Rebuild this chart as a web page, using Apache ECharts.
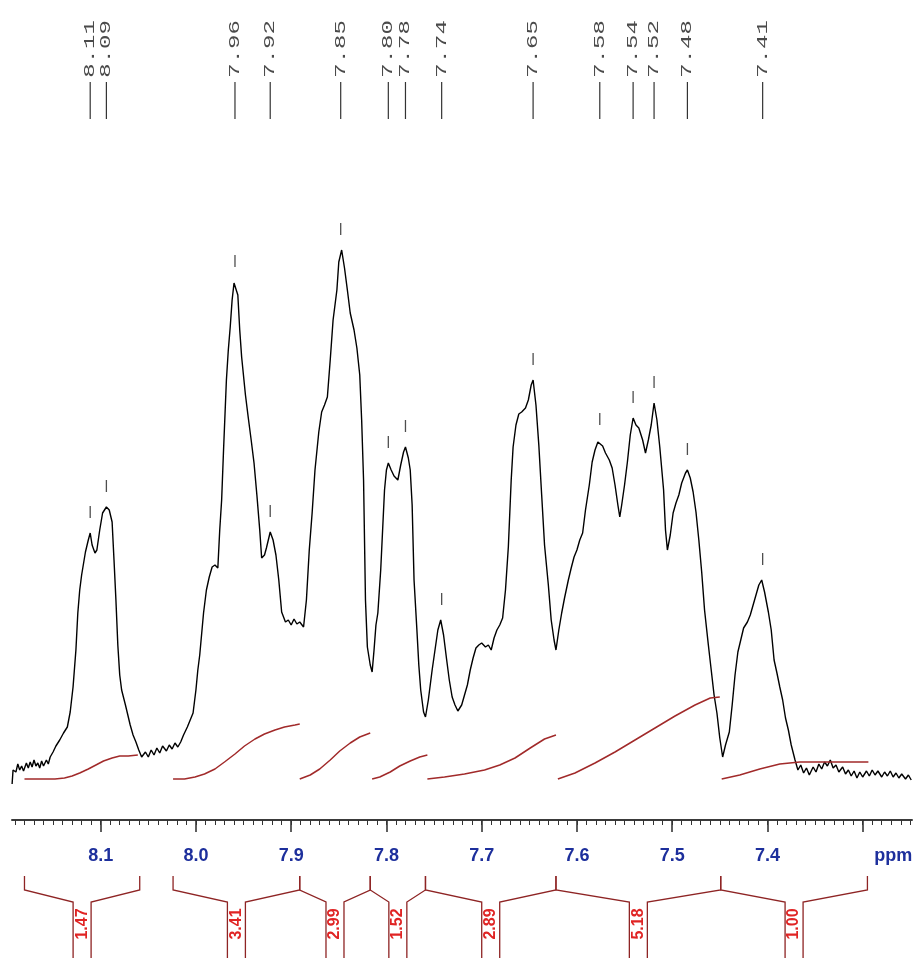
<!DOCTYPE html>
<html><head><meta charset="utf-8">
<script src="https://cdn.jsdelivr.net/npm/echarts@6/dist/echarts.min.js"></script>
<style>html,body{margin:0;padding:0;background:#fff}#c{width:916px;height:966px}</style>
</head><body><div id="c"></div>
<script>
// ---- data (ppm, intensity) ----
const spectrum = [
[8.193,36],[8.192,50],[8.191,52],[8.189,48],[8.187,56],[8.185,50],[8.183,54],[8.181,49],[8.178,57],[8.176,52],[8.174,58],[8.172,53],[8.170,60],[8.168,54],[8.166,57],[8.164,52],[8.162,59],[8.160,54],[8.157,60],[8.155,56],[8.153,63],[8.150,68],[8.147,74],[8.143,80],[8.139,87],[8.135,93],[8.132,108],[8.129,133],[8.126,170],[8.124,207],[8.122,230],[8.120,245],[8.116,268],[8.113,280],[8.111,287],[8.109,275],[8.106,267],[8.104,270],[8.101,290],[8.098,307],[8.094,313],[8.091,310],[8.088,298],[8.086,260],[8.084,220],[8.082,175],[8.080,145],[8.078,130],[8.074,115],[8.072,107],[8.069,95],[8.066,85],[8.063,78],[8.060,70],[8.057,63],[8.053,68],[8.050,63],[8.047,70],[8.044,65],[8.041,72],[8.038,67],[8.035,74],[8.031,69],[8.028,75],[8.025,71],[8.022,77],[8.019,73],[8.016,78],[8.013,85],[8.009,93],[8.006,100],[8.003,107],[8.000,130],[7.998,150],[7.996,165],[7.992,207],[7.989,230],[7.986,243],[7.983,253],[7.980,255],[7.977,252],[7.975,290],[7.973,320],[7.971,370],[7.968,440],[7.966,470],[7.964,493],[7.962,520],[7.960,537],[7.958,538],[7.956,525],[7.954,490],[7.952,463],[7.948,425],[7.945,402],[7.942,380],[7.939,357],[7.936,325],[7.933,290],[7.931,262],[7.928,265],[7.926,272],[7.924,280],[7.922,288],[7.919,280],[7.916,265],[7.913,240],[7.910,208],[7.906,198],[7.903,200],[7.900,195],[7.897,201],[7.894,196],[7.891,198],[7.887,193],[7.884,220],[7.881,270],[7.878,307],[7.875,350],[7.871,388],[7.868,408],[7.865,415],[7.862,423],[7.859,460],[7.856,500],[7.852,530],[7.850,558],[7.847,570],[7.844,552],[7.841,530],[7.838,507],[7.834,490],[7.831,472],[7.828,445],[7.826,400],[7.824,340],[7.822,220],[7.820,173],[7.817,155],[7.815,148],[7.813,170],[7.811,195],[7.809,207],[7.806,250],[7.804,290],[7.802,330],[7.800,350],[7.798,357],[7.795,350],[7.792,344],[7.788,340],[7.785,355],[7.782,368],[7.780,373],[7.777,362],[7.775,350],[7.773,315],[7.771,240],[7.768,190],[7.766,155],[7.764,130],[7.761,108],[7.759,103],[7.756,120],[7.752,150],[7.749,170],[7.746,190],[7.743,200],[7.740,185],[7.737,162],[7.734,140],[7.731,123],[7.728,115],[7.725,109],[7.721,115],[7.718,125],[7.715,135],[7.712,150],[7.709,162],[7.706,172],[7.703,175],[7.700,177],[7.696,173],[7.693,175],[7.690,170],[7.687,182],[7.684,190],[7.681,195],[7.678,202],[7.675,230],[7.672,273],[7.669,340],[7.667,373],[7.664,395],[7.661,406],[7.658,408],[7.654,412],[7.651,420],[7.648,435],[7.646,440],[7.643,415],[7.640,375],[7.637,325],[7.634,275],[7.630,235],[7.627,200],[7.624,180],[7.622,170],[7.619,190],[7.616,207],[7.613,222],[7.609,240],[7.606,252],[7.603,263],[7.600,270],[7.597,280],[7.594,287],[7.591,310],[7.587,335],[7.584,358],[7.581,370],[7.578,378],[7.576,380],[7.573,374],[7.570,367],[7.566,360],[7.563,352],[7.560,335],[7.557,315],[7.555,303],[7.553,315],[7.550,335],[7.547,358],[7.544,385],[7.541,402],[7.538,395],[7.535,392],[7.531,380],[7.528,367],[7.525,380],[7.522,395],[7.519,417],[7.516,400],[7.513,373],[7.509,330],[7.507,290],[7.505,270],[7.502,285],[7.499,307],[7.496,317],[7.493,325],[7.490,337],[7.486,347],[7.484,350],[7.481,342],[7.478,328],[7.475,308],[7.472,280],[7.469,248],[7.466,210],[7.462,175],[7.459,150],[7.456,125],[7.453,107],[7.450,82],[7.447,63],[7.444,75],[7.440,88],[7.437,115],[7.434,145],[7.431,168],[7.428,180],[7.425,192],[7.421,198],[7.418,205],[7.415,215],[7.412,225],[7.409,235],[7.406,240],[7.403,228],[7.399,208],[7.396,190],[7.393,160],[7.390,147],[7.387,133],[7.384,120],[7.381,102],[7.378,90],[7.375,75],[7.371,60],[7.368,50],[7.365,55],[7.362,47],[7.359,52],[7.356,45],[7.352,53],[7.349,48],[7.346,56],[7.343,51],[7.340,58],[7.337,54],[7.334,60],[7.331,52],[7.328,55],[7.325,48],[7.321,53],[7.318,46],[7.315,50],[7.312,44],[7.309,49],[7.306,42],[7.303,48],[7.300,43],[7.296,49],[7.293,44],[7.290,50],[7.287,45],[7.284,49],[7.280,43],[7.277,48],[7.274,44],[7.271,49],[7.268,43],[7.265,47],[7.262,42],[7.259,46],[7.255,41],[7.252,45],[7.249,40]
];

const peakLabels = ['8.11','8.09','7.96','7.92','7.85','7.80','7.78','7.74','7.65','7.58','7.54','7.52','7.48','7.41'];
const peakPpm    = [8.111,8.094,7.959,7.922,7.848,7.798,7.780,7.742,7.646,7.576,7.541,7.519,7.484,7.405];
const peakHeight = [287,313,538,288,570,357,373,200,440,380,402,417,350,240];

const integral1 = [[8.180,41],[8.164,41],[8.148,41],[8.138,42],[8.130,44],[8.122,47],[8.113,51],[8.105,55],[8.097,59],[8.088,62],[8.080,64],[8.071,64],[8.061,65]];
const integral2 = [[8.024,41],[8.012,41],[8.001,43],[7.991,46],[7.980,51],[7.970,58],[7.959,66],[7.949,74],[7.938,81],[7.928,86],[7.917,90],[7.907,93],[7.896,95],[7.891,96]];
const integral3 = [[7.891,41],[7.880,45],[7.870,51],[7.859,60],[7.849,69],[7.838,77],[7.828,83],[7.817,87]];
const integral4 = [[7.815,41],[7.807,43],[7.796,48],[7.786,54],[7.775,59],[7.765,63],[7.757,65]];
const integral5 = [[7.757,41],[7.739,43],[7.718,46],[7.697,50],[7.681,55],[7.665,62],[7.649,72],[7.634,81],[7.622,85]];
const integral6 = [[7.620,41],[7.602,47],[7.581,57],[7.560,68],[7.539,80],[7.518,92],[7.497,104],[7.476,115],[7.460,122],[7.450,123]];
const integral7 = [[7.448,41],[7.429,45],[7.408,51],[7.387,56],[7.366,58],[7.334,58],[7.294,58]];
const integralCurves = [integral1,integral2,integral3,integral4,integral5,integral6,integral7];

const integralRanges = [[8.180,8.059],[8.024,7.891],[7.891,7.817],[7.817,7.759],[7.759,7.622],[7.622,7.449],[7.449,7.295]];
const integralValues = ['1.47','3.41','2.99','1.52','2.89','5.18','1.00'];

const tickLabels   = ['8.1','8.0','7.9','7.8','7.7','7.6','7.5','7.4','ppm'];
const tickLabelPos = [8.1,8.0,7.9,7.8,7.7,7.6,7.5,7.4,7.268];
const majorTicks   = [8.1,8.0,7.9,7.8,7.7,7.6,7.5,7.4,7.3];
const minorTicks = [];
for (let k = 725; k <= 819; k++) minorTicks.push(k / 100);

const X_MIN = 7.2482, X_MAX = 8.1931;

// ---- chart ----
const chart = echarts.init(document.getElementById('c'), null, {renderer: 'canvas'});
const LINE_RED = '#8e2424';
const axisFont = "'Liberation Sans Narrow','Arial Narrow','Liberation Sans',sans-serif";

const series = [];
series.push({
  type: 'line', xAxisIndex: 0, yAxisIndex: 0, data: spectrum,
  showSymbol: false, symbol: 'none', silent: true,
  lineStyle: {color: '#000', width: 1.4}
});
integralCurves.forEach(c => series.push({
  type: 'line', xAxisIndex: 0, yAxisIndex: 0, data: c,
  showSymbol: false, symbol: 'none', silent: true, smooth: false,
  lineStyle: {color: '#a12a2a', width: 1.5}
}));
// peak top ticks
series.push({
  type: 'scatter', xAxisIndex: 0, yAxisIndex: 0, silent: true,
  data: peakPpm.map((p, i) => [p, peakHeight[i]]),
  symbol: 'rect', symbolSize: [1.3, 12], symbolOffset: [0, -21],
  itemStyle: {color: '#222'}
});
// peak labels on top
series.push({
  type: 'custom', xAxisIndex: 0, yAxisIndex: 0, silent: true,
  data: peakPpm.map((p, i) => [p, 0, i]),
  encode: {x: 0, y: 1},
  renderItem: function (params, api) {
    const i = api.value(2);
    const x = api.coord([api.value(0), 0])[0];
    const y1 = api.coord([X_MIN, 738])[1];
    const y2 = api.coord([X_MIN, 701])[1];
    const yt = api.coord([X_MIN, 771])[1];
    return {type: 'group', children: [
      {type: 'line', shape: {x1: x, y1: y1, x2: x, y2: y2}, style: {stroke: '#333', lineWidth: 1.2}},
      {type: 'text', x: x, y: yt, rotation: Math.PI / 2, scaleX: 1.6,
       style: {text: peakLabels[i], fill: '#4a4a4a', align: 'center', verticalAlign: 'middle',
               font: "15px 'Liberation Mono','DejaVu Sans Mono',monospace"}}
    ]};
  }
});
// integral brackets
series.push({
  type: 'custom', xAxisIndex: 2, yAxisIndex: 1, silent: true,
  data: integralRanges.map((r, i) => [r[0], r[1], i]),
  encode: {x: [0, 1]},
  renderItem: function (params, api) {
    const i = api.value(2);
    const xa = api.coord([api.value(0), 0])[0];
    const xb = api.coord([api.value(1), 0])[0];
    const xc = (xa + xb) / 2;
    const yTop = api.coord([X_MIN, 84])[1];
    const ySlope = api.coord([X_MIN, 70])[1];
    const yInner = api.coord([X_MIN, 58])[1];
    const yBot = api.coord([X_MIN, 2])[1];
    const yText = api.coord([X_MIN, 36])[1];
    const st = {stroke: LINE_RED, lineWidth: 1.3, fill: null};
    return {type: 'group', children: [
      {type: 'polyline', shape: {points: [[xa, yTop], [xa, ySlope], [xc - 9, yInner], [xc - 9, yBot]]}, style: st},
      {type: 'polyline', shape: {points: [[xc + 9, yBot], [xc + 9, yInner], [xb, ySlope], [xb, yTop]]}, style: st},
      {type: 'text', x: xc, y: yText, rotation: Math.PI / 2,
       style: {text: integralValues[i], fill: '#e02424', align: 'center', verticalAlign: 'middle',
               font: "bold 16px 'Liberation Sans Narrow','Liberation Sans',sans-serif"}}
    ]};
  }
});

chart.setOption({
  animation: false,
  backgroundColor: '#fff',
  grid: [
    {left: 12, right: 4, top: 0, bottom: 146, containLabel: false, outerBoundsMode: 'none'},
    {left: 12, right: 4, top: 870, height: 90, containLabel: false, outerBoundsMode: 'none'}
  ],
  xAxis: [
    {type: 'value', gridIndex: 0, min: X_MIN, max: X_MAX, inverse: true, position: 'bottom',
     axisLine: {show: true, onZero: false, lineStyle: {color: '#3a3a3a', width: 2}},
     axisTick: {show: true, customValues: majorTicks, length: 12, lineStyle: {color: '#2a2a2a', width: 1.5}},
     axisLabel: {show: true, customValues: tickLabelPos, margin: 27,
       formatter: function (v) { for (let i = 0; i < tickLabelPos.length; i++) if (Math.abs(tickLabelPos[i] - v) < 1e-6) return tickLabels[i]; return ''; },
       color: '#1d2f9c', fontFamily: axisFont, fontWeight: 'bold', fontSize: 18},
     splitLine: {show: false}},
    {type: 'value', gridIndex: 0, min: X_MIN, max: X_MAX, inverse: true, position: 'bottom', offset: 0,
     axisLine: {show: false}, axisLabel: {show: false}, splitLine: {show: false},
     axisTick: {show: true, customValues: minorTicks, length: 5, lineStyle: {color: '#333', width: 1}}},
    {type: 'value', gridIndex: 1, min: X_MIN, max: X_MAX, inverse: true, show: false}
  ],
  yAxis: [
    {type: 'value', gridIndex: 0, min: 0, max: 820, show: false},
    {type: 'value', gridIndex: 1, min: 0, max: 90, show: false}
  ],
  series: series
});
</script>
</body></html>
